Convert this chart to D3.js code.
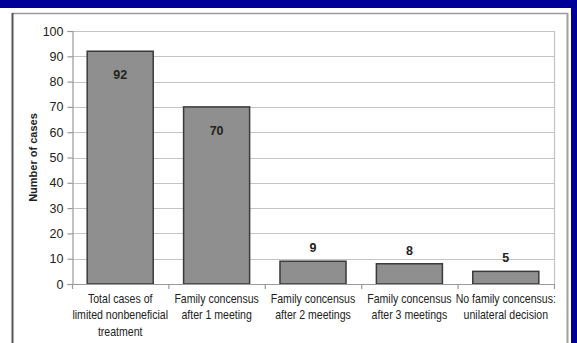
<!DOCTYPE html>
<html>
<head>
<meta charset="utf-8">
<script src="https://cdn.jsdelivr.net/npm/d3@7"></script>
<style>
  html, body { margin: 0; padding: 0; background: #ffffff; }
  svg { display: block; }
</style>
</head>
<body>
<script>
// Outcomes of cases with limited nonbeneficial treatment
const categories = [
  ["Total cases of", "limited nonbeneficial", "treatment"],
  ["Family concensus", "after 1 meeting"],
  ["Family concensus", "after 2 meetings"],
  ["Family concensus", "after 3 meetings"],
  ["No family concensus:", "unilateral decision"]
];
const values = [92, 70, 9, 8, 5];
const yTicks = [0, 10, 20, 30, 40, 50, 60, 70, 80, 90, 100];
const yTitle = "Number of cases";

const W = 577, H = 343;
const svg = d3.select("body").append("svg").attr("width", W).attr("height", H);

// frame: blue band on top and right, grey chart border inside
svg.append("rect").attr("x", 0).attr("y", 0).attr("width", W).attr("height", 8).attr("fill", "#000099");
svg.append("rect").attr("x", 571).attr("y", 0).attr("width", 6).attr("height", H).attr("fill", "#000099");
svg.append("line").attr("x1", 12).attr("x2", 568).attr("y1", 13.5).attr("y2", 13.5)
  .attr("stroke", "#9a9a9a").attr("stroke-width", 1.5);
svg.append("line").attr("x1", 567.5).attr("x2", 567.5).attr("y1", 13).attr("y2", H)
  .attr("stroke", "#a0a0a0").attr("stroke-width", 2);
svg.append("line").attr("x1", 12.5).attr("x2", 12.5).attr("y1", 13).attr("y2", H)
  .attr("stroke", "#555555").attr("stroke-width", 2);

const plotLeft = 72, plotRight = 554, plotTop = 31, plotBottom = 284;
const x = d3.scaleBand().domain(d3.range(categories.length)).range([plotLeft, plotRight]).paddingInner(0.315).paddingOuter(0.1575);
const xOuter = d3.scaleBand().domain(d3.range(categories.length)).range([plotLeft, plotRight]);
const y = d3.scaleLinear().domain([0, 100]).range([plotBottom, plotTop]);

// gridlines
svg.append("g").selectAll("line").data(yTicks.filter(d => d > 0)).join("line")
  .attr("x1", plotLeft).attr("x2", plotRight)
  .attr("y1", d => Math.round(y(d)) + 0.5).attr("y2", d => Math.round(y(d)) + 0.5)
  .attr("stroke", "#c4c4c4").attr("stroke-width", 1.2);
// right edge of plot area
svg.append("line").attr("x1", plotRight + 0.5).attr("x2", plotRight + 0.5).attr("y1", y(100)).attr("y2", plotBottom)
  .attr("stroke", "#c4c4c4").attr("stroke-width", 1.2);

// y axis
const yAxis = svg.append("g").attr("transform", `translate(${plotLeft + 0.5},0)`)
  .call(d3.axisLeft(y).tickValues(yTicks).tickSize(5).tickPadding(4));
yAxis.select(".domain").attr("stroke", "#9a9a9a").attr("stroke-width", 1.2);
yAxis.selectAll(".tick line").attr("stroke", "#9a9a9a").attr("stroke-width", 1.2);
yAxis.selectAll(".tick text").attr("font-family", "Liberation Sans, Arial, sans-serif")
  .attr("font-size", 12.5).attr("fill", "#222");

// bars
svg.append("g").selectAll("rect").data(values).join("rect")
  .attr("x", (d, i) => x(i))
  .attr("y", d => y(d))
  .attr("width", x.bandwidth())
  .attr("height", d => y(0) - y(d))
  .attr("fill", "#8f8f8f")
  .attr("stroke", "#3a3a3a")
  .attr("stroke-width", 1.5);

// x axis with ticks between categories
svg.append("line").attr("x1", plotLeft).attr("x2", plotRight).attr("y1", plotBottom + 0.5).attr("y2", plotBottom + 0.5)
  .attr("stroke", "#9a9a9a").attr("stroke-width", 1.2);
svg.append("g").selectAll("line").data(d3.range(categories.length + 1)).join("line")
  .attr("x1", i => (i < categories.length ? xOuter(i) : plotRight) + 0.5)
  .attr("x2", i => (i < categories.length ? xOuter(i) : plotRight) + 0.5)
  .attr("y1", plotBottom).attr("y2", plotBottom + 5)
  .attr("stroke", "#9a9a9a").attr("stroke-width", 1.2);

// category labels, set in a condensed face (horizontally squeezed)
const catGroups = svg.append("g").selectAll("g").data(categories).join("g");
catGroups.each(function (lines, i) {
  const g = d3.select(this);
  const cx = xOuter(i) + xOuter.bandwidth() / 2;
  lines.forEach((ln, k) => {
    g.append("text")
      .attr("transform", `translate(${cx},${302.5 + k * 16.5}) scale(0.8,1)`)
      .attr("text-anchor", "middle")
      .attr("font-family", "Liberation Sans, Arial, sans-serif")
      .attr("font-size", 13.2)
      .attr("fill", "#222")
      .text(ln);
  });
});

// value labels
svg.append("g").selectAll("text").data(values).join("text")
  .attr("x", (d, i) => x(i) + x.bandwidth() / 2)
  .attr("y", d => d > 30 ? y(d) + 28 : y(d) - 9)
  .attr("text-anchor", "middle")
  .attr("font-family", "Liberation Sans, Arial, sans-serif")
  .attr("font-weight", "bold")
  .attr("font-size", 12.5)
  .attr("fill", "#222")
  .text(d => d);

// y axis title
svg.append("text")
  .attr("transform", `translate(37,${(plotTop + plotBottom) / 2}) rotate(-90)`)
  .attr("text-anchor", "middle")
  .attr("font-family", "Liberation Sans, Arial, sans-serif")
  .attr("font-weight", "bold")
  .attr("font-size", 11)
  .attr("fill", "#222")
  .text(yTitle);
</script>
</body>
</html>
